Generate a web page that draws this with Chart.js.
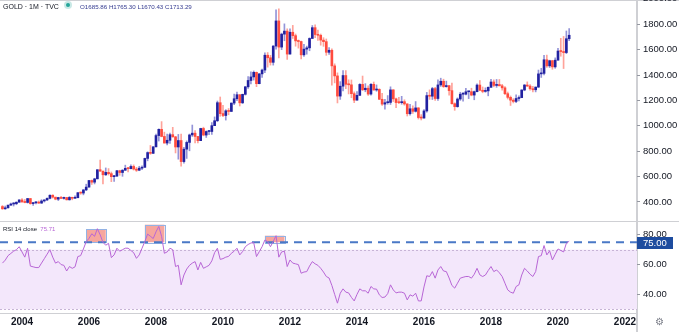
<!DOCTYPE html>
<html>
<head>
<meta charset="utf-8">
<script src="https://cdn.jsdelivr.net/npm/chart.js@4.4.1/dist/chart.umd.min.js"></script>
<style>
  body { margin: 0; background: #fff; }
  #wrap { position: relative; width: 679px; height: 332px; overflow: hidden; font-family: 'Liberation Sans', Arial, sans-serif; }
  canvas { position: absolute; left: 0; }
  .rule { position: absolute; background: #cfd0d4; }
  .txt { position: absolute; white-space: nowrap; line-height: 1; }
</style>
</head>
<body>
<div id="wrap">
  <div class="rule" style="left:0;top:0;width:679px;height:1px"></div>
  <div class="rule" style="left:0;top:221px;width:679px;height:1px"></div>
  <div class="rule" style="left:636px;top:0;width:2px;height:332px"></div>
  <canvas id="priceChart" width="679" height="221" style="top:0"></canvas>
  <canvas id="rsiChart" width="679" height="111" style="top:221px"></canvas>
  <div class="txt" style="left:3px;top:3px;font-size:7px;color:#131722">GOLD · 1M · TVC</div>
  <div style="position:absolute;left:66px;top:3px;width:4px;height:4px;border-radius:50%;background:#26a69a;box-shadow:0 0 0 2px rgba(38,166,154,0.25)"></div>
  <div class="txt" id="ohlc" style="left:80px;top:3.5px;font-size:6.2px;color:#343b90"></div>
  <div class="txt" id="rsiLabel" style="left:3px;top:226px;font-size:6px;color:#131722"></div>
  <div class="txt" style="left:655px;top:317px;font-size:10px;color:#787b86">⚙</div>
</div>

<script>
// monthly candles, first one is June 2003
const firstMonth = '2003-06';

const opens = [
  364, 346, 354, 375, 384, 386, 398,
  416, 400, 396, 427, 387, 393, 394, 391, 408, 416, 428, 453,
  438, 422, 435, 428, 435, 417, 436, 429, 433, 473, 470, 495,
  517, 569, 556, 582, 654, 643, 614, 633, 623, 599, 604, 646,
  632, 650, 665, 662, 680, 659, 650, 666, 673, 743, 789, 783,
  834, 923, 972, 916, 864, 886, 930, 913, 833, 884, 718, 816,
  869, 928, 942, 916, 883, 979, 927, 955, 955, 1001, 1040, 1182,
  1096, 1081, 1118, 1113, 1179, 1213, 1245, 1181, 1248, 1307, 1357, 1385,
  1421, 1332, 1409, 1439, 1556, 1536, 1500, 1628, 1826, 1620, 1722, 1746,
  1565, 1737, 1710, 1669, 1664, 1559, 1604, 1614, 1688, 1773, 1719, 1713,
  1675, 1663, 1579, 1595, 1472, 1393, 1234, 1312, 1396, 1327, 1323, 1253,
  1202, 1240, 1326, 1284, 1296, 1250, 1327, 1282, 1287, 1209, 1171, 1182,
  1184, 1283, 1212, 1183, 1182, 1190, 1172, 1095, 1134, 1114, 1141, 1065,
  1061, 1117, 1238, 1233, 1293, 1215, 1322, 1351, 1309, 1316, 1277, 1174,
  1151, 1211, 1249, 1249, 1268, 1269, 1242, 1269, 1321, 1280, 1271, 1275,
  1303, 1345, 1318, 1325, 1315, 1299, 1253, 1224, 1202, 1192, 1215, 1222,
  1282, 1321, 1313, 1292, 1284, 1305, 1409, 1413, 1520, 1472, 1513, 1464,
  1517, 1589, 1585, 1577, 1685.86
];

const highs = [
  372, 368, 376, 391, 395, 401, 418,
  427, 420, 428, 428, 397, 403, 408, 418, 418, 433, 456, 457,
  438, 437, 444, 438, 436, 443, 437, 448, 474, 478, 497, 540,
  570, 573, 587, 654, 730, 644, 668, 663, 636, 610, 649, 650,
  655, 690, 673, 693, 692, 673, 681, 685, 745, 795, 845, 837,
  934, 976, 1033, 950, 935, 942, 988, 917, 932, 934, 830, 881,
  935, 1006, 962, 917, 981, 989, 960, 963, 1025, 1070, 1195, 1227,
  1162, 1127, 1136, 1180, 1249, 1265, 1245, 1250, 1310, 1388, 1425, 1432,
  1424, 1412, 1447, 1575, 1577, 1555, 1632, 1913, 1921, 1730, 1803, 1764,
  1764, 1791, 1723, 1676, 1668, 1641, 1628, 1693, 1790, 1796, 1755, 1723,
  1694, 1684, 1617, 1606, 1488, 1417, 1348, 1434, 1434, 1362, 1361, 1267,
  1270, 1332, 1392, 1332, 1315, 1332, 1345, 1322, 1292, 1255, 1208, 1238,
  1307, 1285, 1219, 1224, 1232, 1205, 1175, 1170, 1157, 1191, 1143, 1088,
  1127, 1263, 1283, 1303, 1304, 1362, 1375, 1367, 1352, 1318, 1337, 1181,
  1220, 1264, 1262, 1296, 1270, 1296, 1274, 1331, 1357, 1306, 1299, 1307,
  1366, 1362, 1365, 1365, 1326, 1309, 1266, 1235, 1214, 1243, 1237, 1284,
  1326, 1346, 1324, 1310, 1306, 1439, 1453, 1555, 1557, 1517, 1516, 1535,
  1611, 1689, 1704, 1747, 1765.30
];

const lows = [
  342, 342, 351, 372, 368, 378, 398,
  398, 393, 391, 382, 372, 384, 388, 388, 399, 411, 424, 430,
  417, 411, 425, 421, 415, 414, 417, 428, 433, 460, 456, 489,
  516, 538, 542, 582, 641, 543, 608, 612, 560, 561, 600, 610,
  602, 648, 636, 660, 651, 640, 646, 655, 672, 724, 775, 781,
  834, 880, 913, 864, 850, 862, 910, 786, 737, 681, 705, 743,
  803, 916, 865, 865, 883, 921, 908, 930, 932, 1001, 1032, 1075,
  1071, 1045, 1087, 1113, 1167, 1198, 1156, 1175, 1242, 1295, 1330, 1360,
  1308, 1330, 1381, 1419, 1462, 1478, 1478, 1603, 1535, 1600, 1670, 1523,
  1564, 1688, 1627, 1612, 1527, 1546, 1564, 1591, 1688, 1694, 1672, 1635,
  1626, 1555, 1563, 1321, 1338, 1180, 1208, 1275, 1292, 1251, 1221, 1182,
  1202, 1238, 1277, 1268, 1240, 1241, 1281, 1272, 1206, 1160, 1131, 1170,
  1168, 1191, 1142, 1175, 1170, 1162, 1077, 1084, 1098, 1108, 1053, 1046,
  1061, 1107, 1208, 1207, 1200, 1200, 1310, 1302, 1304, 1241, 1171, 1122,
  1146, 1200, 1194, 1244, 1214, 1236, 1205, 1266, 1276, 1260, 1264, 1236,
  1303, 1307, 1303, 1314, 1281, 1246, 1211, 1160, 1180, 1182, 1196, 1221,
  1276, 1310, 1281, 1266, 1267, 1301, 1381, 1400, 1460, 1459, 1445, 1453,
  1517, 1548, 1451, 1568, 1670.43
];

const closes = [
  346, 354, 375, 384, 386, 398, 416,
  400, 396, 427, 387, 393, 394, 391, 408, 416, 428, 453, 438,
  422, 435, 428, 435, 417, 436, 429, 433, 473, 470, 495, 517,
  569, 556, 582, 654, 643, 614, 633, 623, 599, 604, 646, 632,
  650, 665, 662, 680, 659, 650, 666, 673, 743, 789, 783, 834,
  923, 972, 916, 864, 886, 930, 913, 833, 884, 718, 816, 869,
  928, 942, 916, 883, 979, 927, 955, 955, 1001, 1040, 1182, 1096,
  1081, 1118, 1113, 1179, 1213, 1245, 1181, 1248, 1307, 1357, 1385, 1421,
  1332, 1409, 1439, 1556, 1536, 1500, 1628, 1826, 1620, 1722, 1746, 1565,
  1737, 1710, 1669, 1664, 1559, 1604, 1614, 1688, 1773, 1719, 1713, 1675,
  1663, 1579, 1595, 1472, 1393, 1234, 1312, 1396, 1327, 1323, 1253, 1202,
  1240, 1326, 1284, 1296, 1250, 1327, 1282, 1287, 1209, 1171, 1182, 1184,
  1283, 1212, 1183, 1182, 1190, 1172, 1095, 1134, 1114, 1141, 1065, 1061,
  1117, 1238, 1233, 1293, 1215, 1322, 1351, 1309, 1316, 1277, 1174, 1151,
  1211, 1249, 1249, 1268, 1269, 1242, 1269, 1321, 1280, 1271, 1275, 1303,
  1345, 1318, 1325, 1315, 1299, 1253, 1224, 1202, 1192, 1215, 1222, 1282,
  1321, 1313, 1292, 1284, 1305, 1409, 1413, 1520, 1472, 1513, 1464, 1517,
  1589, 1585, 1577, 1686, 1713.29
];

// RSI(14) on closes, one value per candle
const rsi = [
  61, 63, 66, 67.5, 69, 70, 72,
  68.5, 65, 71, 59, 58.5, 58, 58, 61, 64, 67, 70, 65,
  61, 62, 60, 59.5, 55.7, 58.7, 57.5, 58.5, 65.4, 66, 70.5, 75.4,
  77.6, 80.7, 79, 84.1, 80, 75, 73, 74.3, 64.7, 66.5, 71, 69,
  70, 71, 71, 69.5, 68, 64.2, 66.5, 71, 75.5, 80.5, 79, 77.5,
  82, 85.6, 79, 67.6, 68.5, 71, 70, 58.7, 59.5, 46.4, 53, 57,
  59.5, 61, 62, 56.4, 61.5, 57.5, 58.5, 59.5, 62.5, 68, 71, 63.5,
  64, 65, 65.5, 67.6, 69, 71, 66.5, 68.7, 72, 73.5, 74.5, 74.8,
  65.4, 68.7, 72, 76.5, 75.5, 72, 75.5, 79.4, 65, 68.5, 69, 58.7,
  63.1, 61, 60.5, 60, 54.2, 55, 55.3, 59, 62, 60.5, 59.5, 57.5,
  55, 52, 51, 46, 40, 34.1, 40.8, 43.7, 41.5, 41, 38, 35.6,
  40, 43.7, 42.4, 42.4, 40.8, 45.3, 43.7, 43.5, 39.7, 37.9, 38.2, 40.5,
  46.4, 43, 41, 41.5, 41.5, 40.8, 36.3, 39.7, 38.8, 40.8, 35.6, 35.6,
  45, 52.5, 52, 55.3, 50.9, 56.4, 58.7, 55.7, 55.3, 51, 46, 44.2,
  47.5, 50.9, 51.5, 52, 52, 50.9, 53.5, 57.5, 53.1, 52, 53, 56,
  58.7, 55.3, 56.4, 54.5, 52, 47.5, 43, 41.5, 40.8, 45.3, 46.4, 53,
  57.5, 55.7, 53.5, 52, 55.3, 65.4, 66, 72.8, 66.5, 69.2, 63.1, 66.9,
  70.5, 69.5, 68.5, 74.3, 75.71
];

// overbought stretches marked on the RSI pane
const obFrom = ['2005-12', '2007-09', '2011-04'];
const obTo = ['2006-07', '2008-04', '2011-11'];
const obPeak = [83.7, 86.8, 79.4];

const overbought = 75;
const bandLow = 30, bandHigh = 70;

const priceTicks = [400, 600, 800, 1000, 1200, 1400, 1600, 1800, 2000];
const rsiTicks = [40, 60, 80];
const yearTicks = [2004, 2006, 2008, 2010, 2012, 2014, 2016, 2018, 2020, 2022];

// ---------------------------------------------------------------

const monthIndex = (s) => {
  const [yy, mm] = s.split('-').map(Number);
  return (yy - 2003) * 12 + mm - 1;
};

const start = monthIndex(firstMonth);
const months = closes.map((c, i) => start + i);
const xMin = 4.12, xMax = 232.3;

const UP = '#2121a0', DOWN = '#ff4b3e';
const UP_WICK = '#9494d8', DOWN_WICK = '#ffa39a';
const isUp = (i) => closes[i] >= opens[i];

const fontFam = "'Liberation Sans', Arial, sans-serif";
const last = closes.length - 1;

document.getElementById('ohlc').textContent =
  'O' + opens[last].toFixed(2) + ' H' + highs[last].toFixed(2) +
  ' L' + lows[last].toFixed(2) + ' C' + closes[last].toFixed(2);
document.getElementById('rsiLabel').innerHTML =
  'RSI 14 close&nbsp; <span style="color:#b866d6">' + rsi[last].toFixed(2) + '</span>';

const rightAxis = (min, max, ticks) => ({
  position: 'right',
  min: min,
  max: max,
  afterBuildTicks: (s) => { s.ticks = ticks.map(v => ({ value: v })); },
  afterFit: (s) => { s.width = 42; s.paddingTop = 0; s.paddingBottom = 0; },
  grid: { drawOnChartArea: false, drawTicks: true, tickLength: 3, color: '#9598a1' },
  border: { display: false },
  ticks: {
    padding: 3,
    color: '#131722',
    autoSkip: false,
    font: { size: 9.5, family: fontFam },
    callback: (v) => Number(v).toFixed(2)
  }
});

function CreatePriceChart() {
  const Config = {
    type: 'bar',
    data: {
      datasets: [
        {
          label: 'wick',
          data: months.map((m, i) => ({ x: m, y: [lows[i], highs[i]] })),
          backgroundColor: months.map((m, i) => isUp(i) ? UP_WICK : DOWN_WICK),
          barThickness: 1,
          grouped: false,
          order: 2
        },
        {
          label: 'body',
          data: months.map((m, i) => ({ x: m, y: [opens[i], closes[i]] })),
          backgroundColor: months.map((m, i) => isUp(i) ? UP : DOWN),
          barThickness: 2,
          minBarLength: 1,
          grouped: false,
          order: 1
        }
      ]
    },
    options: {
      responsive: false,
      animation: false,
      layout: { padding: 0 },
      plugins: { legend: { display: false }, tooltip: { enabled: false } },
      scales: {
        x: { type: 'linear', min: xMin, max: xMax, offset: false, display: false },
        y: rightAxis(250, 1991, priceTicks)
      }
    }
  };
  return new Chart(document.getElementById('priceChart'), Config);
}

// band, overbought boxes, 75 level and its tag
const rsiDecor = {
  id: 'rsiDecor',
  beforeDatasetsDraw(chart) {
    const { ctx, chartArea: a, scales: { x, y } } = chart;
    ctx.save();
    const yHi = y.getPixelForValue(bandHigh), yLo = y.getPixelForValue(bandLow);
    ctx.fillStyle = '#f3e7fb';
    ctx.fillRect(a.left, yHi, a.right - a.left, yLo - yHi);
    ctx.strokeStyle = '#c7b4d6';
    ctx.lineWidth = 1;
    ctx.setLineDash([2, 2]);
    [yHi, yLo].forEach(py => {
      ctx.beginPath();
      ctx.moveTo(a.left, Math.round(py) + 0.5);
      ctx.lineTo(a.right, Math.round(py) + 0.5);
      ctx.stroke();
    });

    ctx.setLineDash([]);
    const yOb = y.getPixelForValue(overbought);
    obFrom.forEach((from, i) => {
      const x0 = x.getPixelForValue(monthIndex(from));
      const x1 = x.getPixelForValue(monthIndex(obTo[i]));
      const yt = y.getPixelForValue(obPeak[i]);
      ctx.fillStyle = '#f6a69e';
      ctx.fillRect(x0, yt, x1 - x0, yOb - yt);
      ctx.strokeStyle = '#93b2e4';
      ctx.strokeRect(Math.round(x0) + 0.5, Math.round(yt) + 0.5, Math.round(x1 - x0), Math.round(yOb - yt));
    });

    ctx.strokeStyle = '#4a78c6';
    ctx.lineWidth = 2;
    ctx.setLineDash([8, 6]);
    ctx.beginPath();
    ctx.moveTo(a.left, yOb);
    ctx.lineTo(a.right, yOb);
    ctx.stroke();
    ctx.restore();
  },
  afterDraw(chart) {
    const { ctx, chartArea: a, scales: { y } } = chart;
    const yOb = y.getPixelForValue(overbought);
    ctx.save();
    ctx.fillStyle = '#1d4c9f';
    ctx.fillRect(a.right, Math.round(yOb) - 5, 36, 12);
    ctx.fillStyle = '#ffffff';
    ctx.font = '9.5px ' + fontFam;
    ctx.textBaseline = 'middle';
    ctx.fillText(overbought.toFixed(2), a.right + 6, Math.round(yOb) + 1);
    ctx.restore();
  }
};

function CreateRsiChart() {
  const Config = {
    type: 'line',
    data: {
      datasets: [
        {
          label: 'RSI',
          data: months.map((m, i) => ({ x: m, y: rsi[i] })),
          borderColor: '#b866d6',
          borderWidth: 1,
          pointRadius: 0,
          tension: 0,
          fill: false
        }
      ]
    },
    plugins: [rsiDecor],
    options: {
      responsive: false,
      animation: false,
      layout: { padding: { top: 1 } },
      plugins: { legend: { display: false }, tooltip: { enabled: false } },
      scales: {
        x: {
          type: 'linear',
          min: xMin,
          max: xMax,
          offset: false,
          afterBuildTicks: (s) => { s.ticks = yearTicks.map(yr => ({ value: (yr - 2003) * 12 })); },
          afterFit: (s) => { s.height = 19; s.paddingLeft = 0; s.paddingRight = 0; },
          grid: { display: false, drawTicks: false },
          border: { display: true, color: '#cfd0d4', width: 1 },
          ticks: {
            padding: 3,
            autoSkip: false,
            maxRotation: 0,
            color: '#131722',
            font: { size: 10, weight: 'bold', family: fontFam },
            callback: (v) => String(2003 + v / 12)
          }
        },
        y: rightAxis(27.5, 88.6, rsiTicks)
      }
    }
  };
  return new Chart(document.getElementById('rsiChart'), Config);
}

CreatePriceChart();
CreateRsiChart();
</script>
</body>
</html>
